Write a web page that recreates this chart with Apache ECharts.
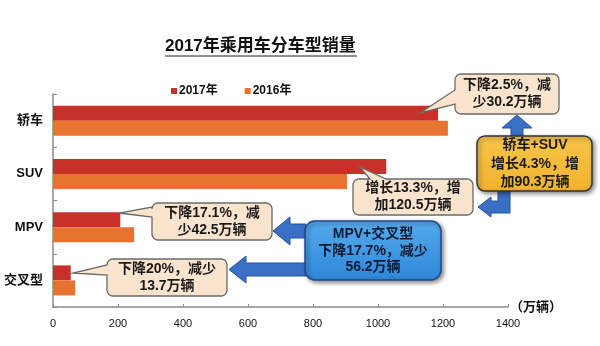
<!DOCTYPE html>
<html>
<head>
<meta charset="utf-8">
<script src="https://cdn.jsdelivr.net/npm/echarts@6/dist/echarts.min.js"></script>
<style>html,body{margin:0;padding:0;background:#fff}#c{width:600px;height:346px}</style>
</head>
<body>
<div id="c"></div>
<script>
var categories = ['轿车', 'SUV', 'MPV', '交叉型'];
var sales2017 = [1184.8, 1025.3, 207.1, 54.6];
var sales2016 = [1215.0, 904.8, 249.6, 68.3];
var xTicks = [0, 200, 400, 600, 800, 1000, 1200, 1400];
var seriesNames = ['2017年', '2016年'];

var FONT = '"Liberation Sans", Arial, "Noto Sans CJK SC", sans-serif';

function arcPts(cx, cy, r, a0, a1) {
  var pts = [];
  for (var i = 0; i <= 6; i++) {
    var a = a0 + (a1 - a0) * i / 6;
    pts.push([cx + r * Math.cos(a), cy + r * Math.sin(a)]);
  }
  return pts;
}
function calloutPoints(x, y, w, h, r, t) {
  var P = Math.PI, pts = [];
  pts = pts.concat(arcPts(x + r, y + r, r, P, 1.5 * P));
  if (t.side === 'top') pts.push([t.a, y], [t.tx, t.ty], [t.b, y]);
  pts = pts.concat(arcPts(x + w - r, y + r, r, 1.5 * P, 2 * P));
  pts = pts.concat(arcPts(x + w - r, y + h - r, r, 0, 0.5 * P));
  pts = pts.concat(arcPts(x + r, y + h - r, r, 0.5 * P, P));
  if (t.side === 'left') pts.push([x, t.b], [t.tx, t.ty], [x, t.a]);
  return pts;
}

function callout(x, y, w, h, t, lines) {
  return [{
    type: 'polygon', z: 100,
    shape: { points: calloutPoints(x, y, w, h, 6, t) },
    style: { fill: '#FAE4CE', stroke: '#6a6a6a', lineWidth: 1.3 }
  }, {
    type: 'text', z: 101,
    style: { text: lines.join('\n'), x: x + w / 2, y: y + h / 2, align: 'center', verticalAlign: 'middle',
      font: 'bold 14px ' + FONT, fill: '#1a1a1a', lineHeight: 17 }
  }];
}

var ARROW_FILL = '#3A6FC6', ARROW_STROKE = '#2A529C';
function poly(points) {
  return { type: 'polygon', z: 99, shape: { points: points },
    style: { fill: ARROW_FILL, stroke: ARROW_STROKE, lineWidth: 1 } };
}

var graphics = [];
// title underline
graphics.push({ type: 'line', z: 100, shape: { x1: 165, y1: 56, x2: 357, y2: 56 }, style: { stroke: '#222', lineWidth: 1.2 } });
// arrows
graphics.push(poly([[511, 137], [511, 128], [502, 128], [517, 115], [532, 128], [523, 128], [523, 137]]));
graphics.push(poly([[498, 191], [510, 191], [510, 213], [491, 213], [491, 217], [478, 207], [491, 197], [491, 201], [498, 201]]));
graphics.push(poly([[306, 224], [290, 224], [290, 217], [273, 231], [290, 245], [290, 238], [306, 238]]));
graphics.push(poly([[306, 263], [246, 263], [246, 256], [229, 269.5], [246, 283], [246, 276], [306, 276]]));
// callouts
graphics = graphics.concat(callout(455, 74, 104, 40, { side: 'left', a: 90, b: 104, tx: 420, ty: 113 }, ['下降2.5%，减', '少30.2万辆']));
graphics = graphics.concat(callout(353, 179, 120, 36, { side: 'top', a: 370, b: 386, tx: 360, ty: 167 }, ['增长13.3%，增', '加120.5万辆']));
graphics = graphics.concat(callout(152, 203, 120, 37, { side: 'left', a: 207, b: 217, tx: 119, ty: 213 }, ['下降17.1%，减', '少42.5万辆']));
graphics = graphics.concat(callout(107, 259, 120, 37, { side: 'left', a: 265, b: 275, tx: 73, ty: 273 }, ['下降20%，减少', '13.7万辆']));
// yellow box
graphics.push({ type: 'rect', z: 100, shape: { x: 477, y: 136, width: 115, height: 55, r: 8 },
  style: { fill: { type: 'linear', x: 0, y: 0, x2: 0, y2: 1, colorStops: [{ offset: 0, color: '#F8C64A' }, { offset: 1, color: '#F0B12E' }] },
    stroke: '#333', lineWidth: 1.5, shadowBlur: 4, shadowOffsetX: 2, shadowOffsetY: 2, shadowColor: 'rgba(0,0,0,0.45)' } });
graphics.push({ type: 'text', z: 101, style: { text: '轿车+SUV\n增长4.3%，增\n加90.3万辆', x: 535, y: 164, align: 'center', verticalAlign: 'middle',
  font: 'bold 14px ' + FONT, fill: '#1a1a1a', lineHeight: 18.5 } });
// blue box
graphics.push({ type: 'rect', z: 100, shape: { x: 305, y: 221, width: 136, height: 59, r: 10 },
  style: { fill: { type: 'linear', x: 0, y: 0, x2: 0, y2: 1, colorStops: [{ offset: 0, color: '#56ABEC' }, { offset: 1, color: '#2E86D8' }] },
    stroke: '#1E4A8A', lineWidth: 1.5, shadowBlur: 4, shadowOffsetX: 2, shadowOffsetY: 2, shadowColor: 'rgba(0,0,0,0.45)' } });
graphics.push({ type: 'text', z: 101, style: { text: 'MPV+交叉型\n下降17.7%，减少\n56.2万辆', x: 373, y: 251, align: 'center', verticalAlign: 'middle',
  font: 'bold 14px ' + FONT, fill: '#0d1a33', lineHeight: 16.5 } });

var chart = echarts.init(document.getElementById('c'), null, { renderer: 'canvas' });
chart.setOption({
  animation: false,
  backgroundColor: '#fff',
  title: {
    text: '2017年乘用车分车型销量', left: 165, top: 38, padding: 0,
    textStyle: { fontSize: 17, fontWeight: 'bold', color: '#111', fontFamily: FONT }
  },
  legend: {
    data: seriesNames, left: 166, top: 80, itemWidth: 6, itemHeight: 6, itemGap: 27,
    icon: 'rect',
    textStyle: { fontSize: 12, fontWeight: 'bold', color: '#111', fontFamily: FONT, padding: [0, 0, 0, -3] }
  },
  grid: { left: 53, right: 92, top: 94, bottom: 39 },
  xAxis: {
    type: 'value', min: 0, max: 1400, interval: 200,
    name: '（万辆）', nameLocation: 'end', nameGap: 2,
    nameTextStyle: { fontSize: 13, fontWeight: 'bold', color: '#111', fontFamily: FONT, verticalAlign: 'middle' },
    axisLine: { show: true, lineStyle: { color: '#8a8a8a', width: 1.5 } },
    axisTick: { show: true, inside: true, length: 3, lineStyle: { color: '#8a8a8a' } },
    splitLine: { show: false },
    axisLabel: { fontSize: 11, color: '#111', margin: 11, fontFamily: FONT,
      formatter: function (v) { return xTicks.indexOf(v) >= 0 ? String(v) : ''; } }
  },
  yAxis: {
    type: 'category', data: categories, inverse: true,
    axisLine: { show: true, lineStyle: { color: '#8a8a8a', width: 1.5 } },
    axisTick: { show: true, inside: true, length: 4, lineStyle: { color: '#8a8a8a' } },
    axisLabel: { fontSize: 13, fontWeight: 'bold', color: '#111', margin: 10, fontFamily: FONT }
  },
  series: [
    { name: seriesNames[0], type: 'bar', data: sales2017, barWidth: 15, barGap: '0%', itemStyle: { color: '#C9302A' } },
    { name: seriesNames[1], type: 'bar', data: sales2016, barWidth: 15, barGap: '0%', itemStyle: { color: '#E8722F' } }
  ],
  graphic: graphics
});
</script>
</body>
</html>
